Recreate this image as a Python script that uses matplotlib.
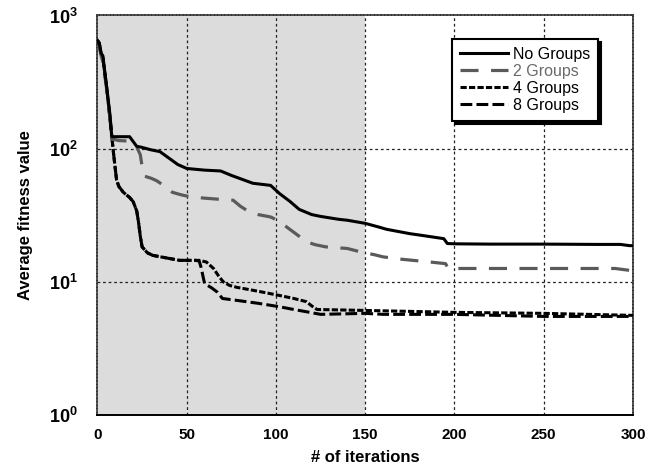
import matplotlib
matplotlib.use("Agg")
import matplotlib.pyplot as plt
import numpy as np

plt.rcParams['font.family'] = ['Liberation Sans', 'DejaVu Sans']
plt.rcParams['mathtext.fontset'] = 'custom'
plt.rcParams['mathtext.rm'] = 'Liberation Sans'
plt.rcParams['mathtext.bf'] = 'Liberation Sans:bold'
plt.rcParams['lines.scale_dashes'] = False

# ---- data ----
no_x = [0, 1, 2, 3, 5, 7, 8, 12, 18, 22, 24, 30, 35, 40, 45, 50, 60, 69, 75, 87, 97, 102, 108, 113,
        120, 125, 135, 140, 150, 158, 162, 175, 181, 194, 196, 200, 220, 250, 280, 293, 298, 300]
no_y = [650, 620, 520, 500, 300, 180, 123, 123, 123, 104, 103, 98, 95, 85, 76, 71, 69, 68, 63, 55, 53,
        46, 40, 35, 32, 31, 29.5, 29, 27.5, 25.7, 24.8, 23, 22.4, 21.1, 19.4, 19.3, 19.2, 19.2, 19.1,
        19.1, 18.7, 18.7]

g2_x = [0, 1, 2, 3, 5, 7, 8, 12, 18, 22, 24, 24.7, 26.6, 30, 33, 38, 42, 47, 52, 60, 70, 76, 80, 85,
        90, 97, 102, 106, 112, 117, 122, 128, 140, 148, 155, 160, 170, 186, 195, 196.5, 250, 290, 298, 300]
g2_y = [580, 580, 500, 450, 290, 170, 118, 115, 114, 103, 90, 78, 62, 60, 57.6, 52, 47, 45, 43.5, 42.5,
        41.5, 41, 37, 33.5, 32, 30.7, 28.5, 25.8, 22.5, 20, 19, 18.3, 17.8, 16.7, 16, 15.4, 14.8, 14.1,
        13.7, 12.6, 12.6, 12.6, 12.2, 12.2]

g4_x = [0, 1, 2, 3, 5, 7, 8, 9, 10.7, 12, 14.5, 18, 20, 22, 23, 24, 25, 28, 31, 40, 46, 55, 57, 61,
        65, 68, 70.5, 74, 78, 90, 102, 110, 117, 120, 123, 150, 175, 200, 250, 300]
g4_y = [650, 620, 520, 480, 300, 170, 125, 92, 58, 52, 47, 43, 40, 34, 28, 22, 18.3, 16.5, 15.8, 15,
        14.5, 14.5, 14.5, 14.1, 12.6, 11, 10, 9.4, 9.1, 8.5, 7.9, 7.5, 7.1, 6.6, 6.2, 6.1, 6.0, 5.9,
        5.8, 5.6]

g8_x = [0, 1, 2, 3, 5, 7, 8, 9, 10.7, 12, 14.5, 18, 20, 22, 23, 24, 25, 28, 31, 40, 46, 55, 57, 58,
        60, 64, 67, 70, 80, 90, 102, 110, 119, 125, 150, 160, 200, 250, 300]
g8_y = [650, 620, 520, 480, 300, 170, 125, 92, 58, 52, 47, 43, 40, 34, 28, 22, 18.3, 16.5, 15.8, 15,
        14.5, 14.5, 14.3, 12.9, 9.7, 9, 8.4, 7.5, 7.2, 6.9, 6.5, 6.2, 5.9, 5.7, 5.8, 5.7, 5.7, 5.5, 5.5]

x_ticks = [0, 50, 100, 150, 200, 250, 300]
y_ticks = [1, 10, 100, 1000]
y_labels = [r'$\mathbf{10}^{\mathbf{0}}$', r'$\mathbf{10}^{\mathbf{1}}$',
            r'$\mathbf{10}^{\mathbf{2}}$', r'$\mathbf{10}^{\mathbf{3}}$']

fig = plt.figure(figsize=(6.64, 4.68), dpi=100)
ax = fig.add_axes([0.1468, 0.1132, 0.8065, 0.8537])
ax.set_yscale('log')
ax.set_xlim(0, 300)
ax.set_ylim(1, 1000)

ax.axvspan(0, 150, color='#dcdcdc', zorder=0, lw=0)

for xv in x_ticks[1:-1]:
    ax.axvline(xv, color='#222222', lw=0.9, ls=(0, (2, 2)), zorder=1)
for yv in [10, 100]:
    ax.axhline(yv, color='#222222', lw=0.9, ls=(0, (2, 2)), zorder=1)

ax.plot(g8_x, g8_y, color='black', lw=2.2, dashes=(8.5, 3), label='8 Groups', zorder=3)
ax.plot(g4_x, g4_y, color='black', lw=2.2, dashes=(4.5, 1.6), label='4 Groups', zorder=3)
ax.plot(g2_x, g2_y, color='#5a5a5a', lw=2.3, dashes=(13, 9), label='2 Groups', zorder=3)
ax.plot(no_x, no_y, color='black', lw=2.2, label='No Groups', zorder=4)

ax.set_xticks(x_ticks)
ax.set_xticklabels([str(v) for v in x_ticks], fontsize=11, fontweight='bold')
ax.set_yticks(y_ticks)
ax.set_yticklabels(y_labels, fontsize=13)
ax.yaxis.set_minor_locator(matplotlib.ticker.NullLocator())
ax.tick_params(axis='x', length=0, pad=9)
ax.tick_params(axis='y', length=0, pad=14)

ax.set_xlabel('# of iterations', fontsize=12, fontweight='bold', labelpad=6)
ax.set_ylabel('Average fitness value', fontsize=12, fontweight='bold', labelpad=12)

for s in ['left', 'top', 'right']:
    ax.spines[s].set_linestyle((0, (1.5, 1)))
    ax.spines[s].set_color('#333333')
    ax.spines[s].set_linewidth(1.2)
ax.spines['bottom'].set_color('black')
ax.spines['bottom'].set_linewidth(1.4)

handles, labels = ax.get_legend_handles_labels()
order = [3, 2, 1, 0]
leg = ax.legend([handles[i] for i in order], [labels[i] for i in order],
                loc='upper left', bbox_to_anchor=(0.662, 0.941), borderaxespad=0,
                fontsize=11.5, handlelength=3.0, handletextpad=0.3, labelspacing=0.12,
                borderpad=0.5, fancybox=False, edgecolor='black', framealpha=1,
                shadow={'color': 'black', 'alpha': 1})
leg.get_frame().set_linewidth(1.5)
leg.get_texts()[1].set_color('#6a6a6a')

fig.savefig('out.png', dpi=100)
